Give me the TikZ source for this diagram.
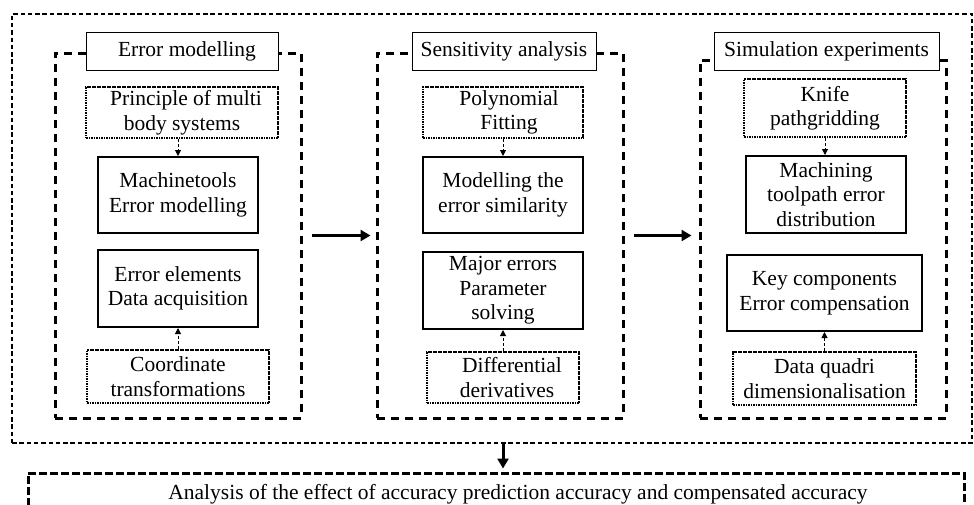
\documentclass[tikz,border=0pt]{standalone}
\usepackage{fontspec}
\setmainfont{Liberation Serif}
\usetikzlibrary{arrows.meta}
\begin{document}
\begin{tikzpicture}[x=1pt,y=-1pt,
  every node/.style={font=\fontsize{21.5}{24.5}\selectfont, align=center, inner sep=0pt},
  outerbox/.style={draw, line width=2.2pt, dash pattern=on 4.5pt off 2.8pt, rectangle},
  panel/.style={draw, line width=3pt, dash pattern=on 8pt off 6pt, rectangle},
  titlebox/.style={draw, line width=1pt, fill=white, rectangle},
  dotbox/.style={draw, line width=2.6pt, dash pattern=on 1.6pt off 0.9pt, rectangle},
  solidbox/.style={draw, line width=2pt, rectangle},
  bigarrow/.style={line width=3pt, -{Triangle[length=10pt,width=11pt]}},
  smallarrow/.style={line width=1pt, dash pattern=on 3pt off 2pt, -{Triangle[length=6pt,width=6pt]}},
  bottombox/.style={draw, line width=3pt, dash pattern=on 8pt off 3pt, rectangle}
]
\useasboundingbox (0,0) rectangle (974,504);
\fill[white] (0,0) rectangle (974,504);

% outer dotted frame
\node[outerbox, minimum width=960pt, minimum height=429pt] (outer) at (492,228.5) {};

% panels
\node[panel, minimum width=246pt, minimum height=365pt] (PL) at (178,235.5) {};
\node[panel, minimum width=246pt, minimum height=365pt] (PM) at (500,235.5) {};
\node[panel, minimum width=246pt, minimum height=358pt] (PR) at (823,239) {};

% left panel
\node[titlebox, minimum width=192pt, minimum height=38pt] (t1) at (182,51) {\hspace{10pt}Error modelling};
\node[dotbox, minimum width=192pt, minimum height=51pt] (p1) at (182,112.5) {\hspace{8pt}Principle of multi\\body systems};
\node[solidbox, minimum width=160pt, minimum height=76pt] (m1) at (178,195) {Machinetools\\Error modelling};
\node[solidbox, minimum width=160pt, minimum height=77pt] (e1) at (178,288.5) {Error elements\\Data acquisition};
\node[dotbox, minimum width=182pt, minimum height=53pt] (c1) at (178,376.5) {Coordinate\\transformations};

% middle panel
\node[titlebox, minimum width=184pt, minimum height=38pt] (t2) at (504,51) {Sensitivity analysis};
\node[dotbox, minimum width=160pt, minimum height=51pt] (p2) at (503,112.5) {\hspace{12pt}Polynomial\\\hspace{12pt}Fitting};
\node[solidbox, minimum width=160pt, minimum height=76pt] (m2) at (503,195) {Modelling the\\error similarity};
\node[solidbox, minimum width=160pt, minimum height=77pt] (e2) at (503,290.5) {Major errors\\Parameter\\solving};
\node[dotbox, minimum width=152pt, minimum height=51pt] (c2) at (503,377.5) {\hspace{18pt}Differential\\\hspace{8pt}derivatives};

% right panel
\node[titlebox, minimum width=225pt, minimum height=38pt] (t3) at (826.5,51) {Simulation experiments};
\node[dotbox, minimum width=162pt, minimum height=58pt] (p3) at (825,108) {Knife\\pathgridding};
\node[solidbox, minimum width=160pt, minimum height=77pt] (m3) at (826,194.5) {Machining\\toolpath error\\distribution};
\node[solidbox, minimum width=195pt, minimum height=76pt] (e3) at (824.5,293) {Key components\\Error compensation};
\node[dotbox, minimum width=183pt, minimum height=53pt] (c3) at (824.5,378.5) {Data quadri\\dimensionalisation};

% bottom box
\node[bottombox, minimum width=936pt, minimum height=50pt] (bot) at (496,498) {};
\node (bottext) at (518,494) {Analysis of the effect of accuracy prediction accuracy and compensated accuracy};

% small arrows
\draw[smallarrow] (p1.south -| m1.north) -- (m1.north);
\draw[smallarrow] (c1.north) -- (c1.north |- e1.south);
\draw[smallarrow] (p2.south) -- (m2.north);
\draw[smallarrow] (c2.north) -- (e2.south);
\draw[smallarrow] (p3.south) -- (p3.south |- m3.north);
\draw[smallarrow] (c3.north) -- (c3.north |- e3.south);

% big arrows
\draw[bigarrow, shorten <=9pt, shorten >=5pt] (PL.east) -- (PM.west);
\draw[bigarrow, shorten <=9pt, shorten >=7pt] (PM.east) -- (PM.east -| PR.west);
\draw[bigarrow, shorten >=3pt] ([xshift=3pt]PM.south |- outer.south) -- ([xshift=3pt]PM.south |- bot.north);
\end{tikzpicture}
\end{document}
